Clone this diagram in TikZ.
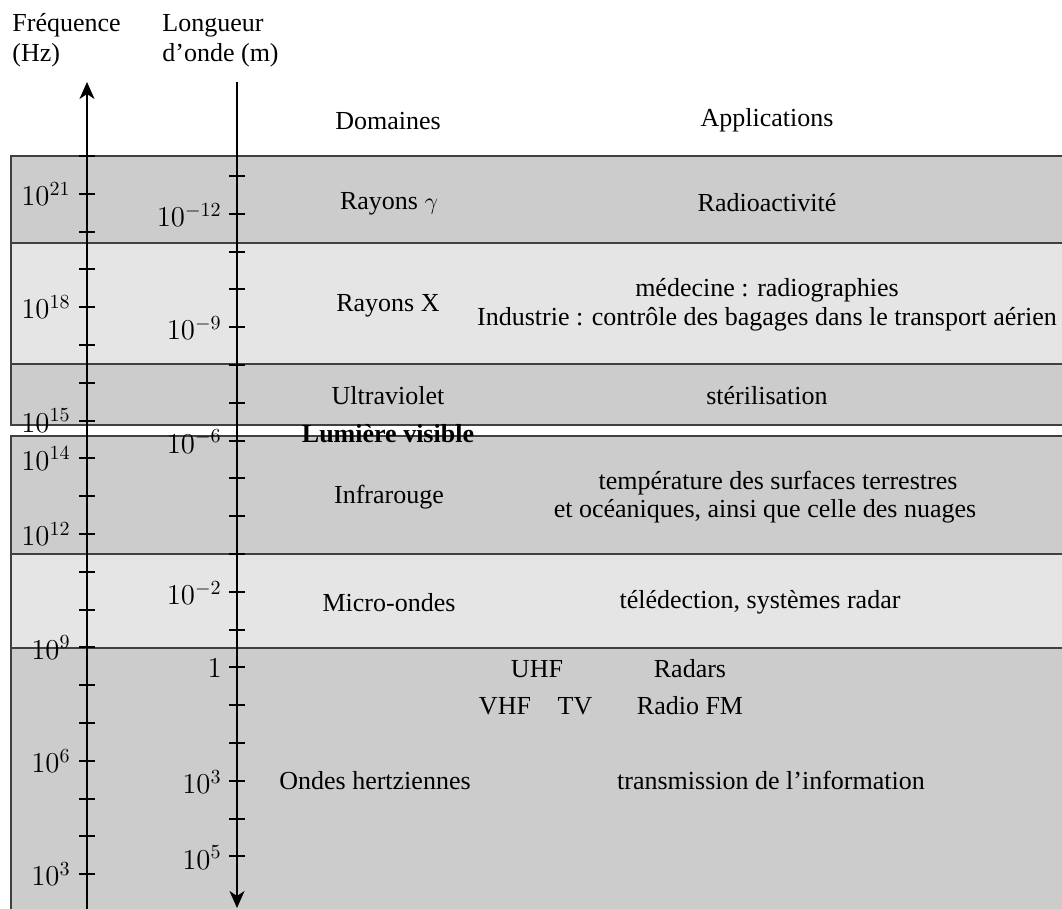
\documentclass[tikz,border=0pt]{standalone}
\usepackage[no-math]{fontspec}
\setmainfont{Liberation Serif}
\usetikzlibrary{arrows.meta}
\begin{document}
\begin{tikzpicture}[x=0.5pt,y=-0.5pt,
  every node/.style={font=\fontsize{13}{15.6}\selectfont, inner sep=0pt},
  band/.style={draw=black!75, line width=0.6pt},
  darkband/.style={band, fill=black!20},
  lightband/.style={band, fill=black!10},
  axisline/.style={line width=1pt},
  tickline/.style={line width=1pt},
  tip/.style={-{Stealth[length=8.5pt,width=7.5pt,inset=2.5pt]}},
  txt/.style={anchor=base},
  axlbl/.style={anchor=east, font=\fontsize{14.6}{17.5}\selectfont}]
\useasboundingbox (0,0) rectangle (1062,909);
\clip (0,0) rectangle (1062,909);
\fill[white] (0,0) rectangle (1062,909);
% bands
\draw[darkband] (11,156) rectangle (1090,243);
\draw[lightband] (11,243) rectangle (1090,364);
\draw[darkband] (11,364) rectangle (1090,425);
\draw[darkband] (11,436) rectangle (1090,554);
\draw[lightband] (11,554) rectangle (1090,648);
\draw[darkband] (11,648) rectangle (1090,940);
% axes
\coordinate (fB) at (87,915);
\coordinate (fT) at (87,82);
\coordinate (lT) at (237,82);
\coordinate (lB) at (237,908);
\draw[axisline,tip] (fB) -- (fT);
\draw[axisline,tip] (lT) -- (lB);
\foreach \k in {0,...,19} \draw[tickline] (79,{156+37.8*\k}) -- (95,{156+37.8*\k});
\foreach \j in {0,...,18} \draw[tickline] (229,{176+37.8*\j}) -- (245,{176+37.8*\j});
% axis labels
\foreach \e/\k in {21/1,18/4,15/7,14/8,12/10,9/13,6/16,3/19}
  \node[axlbl] (f\k) at (71,{156+37.8*\k}) {$10^{\e}$};
\foreach \e/\j in {-12/1,-9/4,-6/7,-2/11,3/16,5/18}
  \node[axlbl] (w\j) at (222,{177+37.8*\j}) {$10^{\e}$};
\node[axlbl] (w13) at (222,{177+37.8*13}) {$1$};
% titles
\node[anchor=base west] (freq1) at (12,32) {Fréquence};
\node[anchor=base west] (freq2) at (12,62) {(Hz)};
\node[anchor=base west] (lon1) at (162,32) {Longueur};
\node[anchor=base west] (lon2) at (162,62) {d’onde (m)};
\node[txt] (hdom) at (388,130) {Domaines};
\node[txt] (happ) at (767,127) {Applications};
% domains
\node[txt] (dgam) at (389,210) {Rayons $\gamma$};
\node[txt] (dx) at (388,312) {Rayons X};
\node[txt] (duv) at (388,405) {Ultraviolet};
\node[txt,font=\fontsize{13}{15.6}\selectfont\bfseries] (dvis) at (388,443) {Lumière visible};
\node[txt] (dir) at (389,504) {Infrarouge};
\node[txt] (dmo) at (389,611) {Micro-ondes};
\node[txt] (doh) at (375,790) {Ondes hertziennes};
% applications
\node[txt] (agam) at (767,212) {Radioactivité};
\node[txt] (ax1) at (767,297) {médecine : radiographies};
\node[txt] (ax2) at (767,326) {Industrie : contrôle des bagages dans le transport aérien};
\node[txt] (auv) at (767,405) {stérilisation};
\node[txt] (air1) at (778,490) {température des surfaces terrestres};
\node[txt] (air2) at (765,518) {et océaniques, ainsi que celle des nuages};
\node[txt] (amo) at (760,609) {télédection, systèmes radar};
\node[txt] (uhf) at (537,677) {UHF};
\node[txt] (radars) at (690,677) {Radars};
\node[txt] (vhf) at (505,714) {VHF};
\node[txt] (tv) at (575,714) {TV};
\node[txt] (fm) at (690,714) {Radio FM};
\node[txt] (aoh) at (771,790) {transmission de l’information};
\end{tikzpicture}
\end{document}
